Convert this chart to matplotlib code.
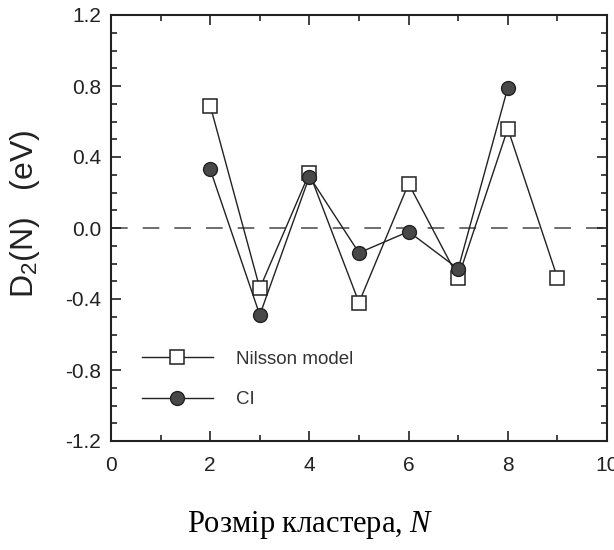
import matplotlib.pyplot as plt
from matplotlib.ticker import MultipleLocator

# розмір кластера
n_nilsson = [2, 3, 4, 5, 6, 7, 8, 9]
d2_nilsson = [0.69, -0.34, 0.31, -0.42, 0.25, -0.28, 0.56, -0.28]

n_ci = [2, 3, 4, 5, 6, 7, 8]
d2_ci = [0.33, -0.49, 0.29, -0.14, -0.02, -0.23, 0.79]

x_ticks = [0, 2, 4, 6, 8, 10]
y_ticks = [-1.2, -0.8, -0.4, 0.0, 0.4, 0.8, 1.2]

plt.rcParams['font.family'] = ['Liberation Sans', 'DejaVu Sans']
plt.rcParams['mathtext.fontset'] = 'custom'
plt.rcParams['mathtext.rm'] = 'Liberation Sans'
plt.rcParams['mathtext.it'] = 'Liberation Serif:italic'

fig = plt.figure(figsize=(6.14, 5.5), dpi=100)
ax = fig.add_axes([111 / 614, 1 - 441 / 550, (607 - 111) / 614, (441 - 15) / 550])

ax.axhline(0.0, color='#555555', lw=1.2, dashes=(10, 9), zorder=1)

ax.plot(n_nilsson, d2_nilsson, color='#222222', lw=1.0, marker='s', ms=10,
        mfc='white', mec='#222222', mew=1.1, label='Nilsson model', zorder=3)
ax.plot(n_ci, d2_ci, color='#222222', lw=1.0, marker='o', ms=10,
        mfc='#484848', mec='#222222', mew=1.0, label='CI', zorder=4)

ax.set_xlim(0, 10)
ax.set_ylim(-1.2, 1.2)
ax.set_xticks(x_ticks)
ax.set_yticks(y_ticks)
ax.set_xticklabels([str(v) for v in x_ticks])
ax.set_yticklabels(['%.1f' % v for v in y_ticks])
ax.xaxis.set_minor_locator(MultipleLocator(1))
ax.yaxis.set_minor_locator(MultipleLocator(0.1))
ax.tick_params(which='both', direction='in', top=True, right=True,
               color='#222222', width=1.2)
ax.tick_params(which='major', length=7, labelsize=15, labelcolor='#222222')
ax.tick_params(which='minor', length=4)
ax.tick_params(axis='x', which='major', pad=11)
ax.tick_params(axis='y', which='major', pad=7)
for s in ax.spines.values():
    s.set_linewidth(1.5)
    s.set_color('#222222')

ax.set_ylabel('D$_\\mathrm{2}$(N)   (eV)', fontsize=23, color='#222222')
ax.yaxis.set_label_coords(-0.139, 0.533)

leg = ax.legend(loc='upper left', bbox_to_anchor=(0.062, 0.212), frameon=False,
                fontsize=13.5, handlelength=3.8, handletextpad=1.2,
                labelspacing=1.25, borderpad=0, borderaxespad=0)
for t in leg.get_texts():
    t.set_color('#333333')

fig.text(310 / 614, 1 - 525 / 550, 'Розмір кластера, $\\mathit{N}$',
         family='Liberation Serif', fontsize=22, ha='center', va='center')

fig.savefig('out.png', dpi=100)
